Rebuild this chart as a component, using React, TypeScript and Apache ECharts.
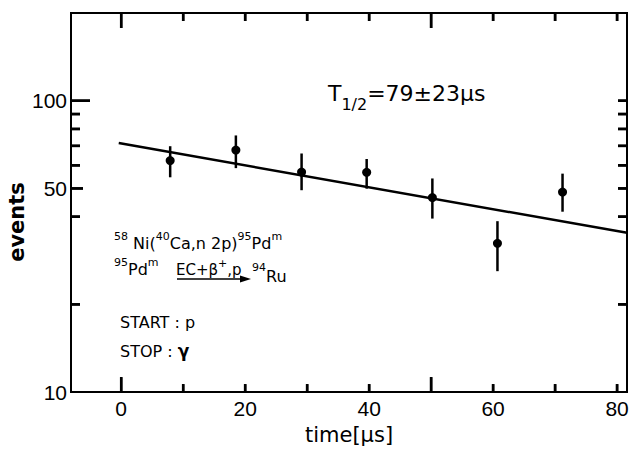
import React, { useEffect, useRef } from 'react';
import * as echarts from 'echarts';

// ---- data ----
const timeUs = [7.9, 18.5, 29.1, 39.6, 50.2, 60.7, 71.2];
const events = [62.3, 67.7, 56.9, 56.8, 46.5, 32.4, 48.6];
const eventsLow = [54.6, 58.7, 49.3, 49.9, 39.4, 26.0, 41.6];
const eventsHigh = [69.8, 76.0, 65.9, 63.1, 54.1, 38.6, 56.2];
const fitTime = [-0.4, 81.6];
const fitEvents = [71.6, 35.2];

const xTickValues = [0, 10, 20, 30, 40, 50, 60, 70, 80];
const xLongTicks = [0, 50];
const xLabelValues = [0, 20, 40, 60, 80];
const yTickValues = [20, 40, 50, 60, 70, 80, 90, 100];
const yMidTicks = [50];
const yLongTicks = [100];
const yLabelValues = [10, 50, 100];

const xMin = -8.1;
const xMax = 81.6;
const yMin = 10;
const yMax = 200;

const L = Math.log10;
const FONT = "'DejaVu Sans', 'Liberation Sans', sans-serif";
const NUMFONT = "'Liberation Sans', 'DejaVu Sans', sans-serif";
const TICK_W = 2.5;

const xTickLen = (v: number) => (xLongTicks.indexOf(v) >= 0 ? 15 : 8);
const yTickLen = (v: number) => (yLongTicks.indexOf(v) >= 0 ? 19 : yMidTicks.indexOf(v) >= 0 ? 12 : 9);

// a custom series that draws short tick strokes from anchor points on the frame
const tickSeries = (data: number[][], offset: (x: number, y: number) => number[]) => ({
  type: 'custom',
  clip: false,
  z: 10,
  data,
  encode: { x: 0, y: 1 },
  renderItem: (params: any, api: any) => {
    const vx = api.value(0);
    const vy = api.value(1);
    const p = api.coord([vx, vy]);
    const d = offset(vx, vy);
    return {
      type: 'line',
      shape: { x1: p[0], y1: p[1], x2: p[0] + d[0], y2: p[1] + d[1] },
      style: { stroke: '#000', lineWidth: TICK_W },
    };
  },
});

export default function App() {
  const ref = useRef<HTMLDivElement>(null);
  useEffect(() => {
    if (!ref.current) return;
    const chart = echarts.init(ref.current, undefined, { renderer: 'svg' });

    const supRich = (main: number, lh: number) => ({
      n: { fontSize: main, fontFamily: FONT, fill: '#000', verticalAlign: 'bottom', lineHeight: lh },
      u: { fontSize: 11, fontFamily: FONT, fill: '#000', verticalAlign: 'top' },
    });

    const texts: any[] = [
      {
        type: 'text', x: 17, y: 222, rotation: Math.PI / 2,
        style: { text: 'events', fill: '#000', font: `bold 21px ${FONT}`, align: 'center', verticalAlign: 'middle' },
      },
      {
        type: 'text', x: 328, y: 82,
        style: {
          text: '{t|T}{s|1/2}{t|=79±23µs}', fill: '#000', font: `22px ${FONT}`, align: 'left', verticalAlign: 'top',
          rich: {
            t: { fontSize: 22, fontFamily: FONT, fill: '#000', verticalAlign: 'top', lineHeight: 30 },
            s: { fontSize: 16, fontFamily: FONT, fill: '#000', verticalAlign: 'bottom' },
          },
        },
      },
      {
        type: 'text', x: 114, y: 231,
        style: {
          text: '{u|58}{n| Ni(}{u|40}{n|Ca,n 2p)}{u|95}{n|Pd}{u|m}', fill: '#000', font: `16px ${FONT}`,
          align: 'left', verticalAlign: 'top', rich: supRich(16, 20),
        },
      },
      {
        type: 'text', x: 114, y: 257,
        style: { text: '{u|95}{n|Pd}{u|m}', fill: '#000', font: `16px ${FONT}`, align: 'left', verticalAlign: 'top', rich: supRich(16, 20) },
      },
      {
        type: 'text', x: 176, y: 258,
        style: { text: '{n|EC+β}{u|+}{n|,p}', fill: '#000', font: `15px ${FONT}`, align: 'left', verticalAlign: 'top', rich: supRich(15, 19) },
      },
      {
        type: 'text', x: 252, y: 262,
        style: { text: '{u|94}{n|Ru}', fill: '#000', font: `16px ${FONT}`, align: 'left', verticalAlign: 'top', rich: supRich(16, 22) },
      },
      { type: 'line', shape: { x1: 177, y1: 279, x2: 243, y2: 279 }, style: { stroke: '#000', lineWidth: 1.5 } },
      { type: 'polygon', shape: { points: [[251, 279], [240, 275.5], [240, 282.5]] }, style: { fill: '#000' } },
      {
        type: 'text', x: 120, y: 322,
        style: { text: 'START : p', fill: '#000', font: `16px ${FONT}`, align: 'left', verticalAlign: 'middle' },
      },
      {
        type: 'text', x: 120, y: 351,
        style: {
          text: '{n|STOP : }{g|γ}', fill: '#000', font: `16px ${FONT}`, align: 'left', verticalAlign: 'middle',
          rich: {
            n: { fontSize: 16, fontFamily: FONT, fill: '#000' },
            g: { fontSize: 17, fontFamily: FONT, fontWeight: 'bold', fill: '#000' },
          },
        },
      },
    ];

    const option: any = {
      animation: false,
      grid: {
        left: 71, right: 5, top: 13, bottom: 50,
        show: true, borderColor: '#000', borderWidth: 2, backgroundColor: 'transparent',
      },
      xAxis: {
        type: 'value',
        min: xMin,
        max: xMax,
        splitLine: { show: false },
        axisLine: { show: true, onZero: false, lineStyle: { color: '#000', width: 2 } },
        axisTick: { show: false },
        axisLabel: {
          show: true,
          customValues: xLabelValues,
          margin: 6,
          color: '#000',
          fontSize: 21,
          fontFamily: NUMFONT,
        },
        name: 'time[µs]',
        nameLocation: 'middle',
        nameGap: 25,
        nameTextStyle: { color: '#000', fontSize: 21, fontFamily: FONT, verticalAlign: 'top' },
      },
      yAxis: {
        type: 'value',
        min: L(yMin),
        max: L(yMax),
        splitLine: { show: false },
        axisLine: { show: true, onZero: false, lineStyle: { color: '#000', width: 2 } },
        axisTick: { show: false },
        axisLabel: {
          show: true,
          customValues: yLabelValues.map(L),
          formatter: (v: number) => String(Math.round(Math.pow(10, v))),
          margin: 4,
          color: '#000',
          fontSize: 21,
          fontFamily: NUMFONT,
        },
      },
      series: [
        tickSeries(xTickValues.map((v) => [v, L(yMin)]), (vx) => [0, -xTickLen(vx)]),
        tickSeries(xTickValues.map((v) => [v, L(yMax)]), (vx) => [0, xTickLen(vx)]),
        tickSeries(yTickValues.map((v) => [xMin, L(v)]), (vx, vy) => [yTickLen(Math.round(Math.pow(10, vy))), 0]),
        tickSeries(yTickValues.map((v) => [xMax, L(v)]), () => [-9, 0]),
        {
          type: 'line',
          data: fitTime.map((t, i) => [t, L(fitEvents[i])]),
          showSymbol: false,
          symbol: 'none',
          lineStyle: { color: '#000', width: 2.5 },
          silent: true,
        },
        {
          type: 'custom',
          silent: true,
          data: timeUs.map((t, i) => [t, L(eventsLow[i]), L(eventsHigh[i])]),
          encode: { x: 0, y: [1, 2] },
          renderItem: (params: any, api: any) => {
            const x = api.value(0);
            const p1 = api.coord([x, api.value(1)]);
            const p2 = api.coord([x, api.value(2)]);
            return {
              type: 'line',
              shape: { x1: p1[0], y1: p1[1], x2: p2[0], y2: p2[1] },
              style: { stroke: '#000', lineWidth: 2.5 },
            };
          },
        },
        {
          type: 'scatter',
          data: timeUs.map((t, i) => [t, L(events[i])]),
          symbol: 'circle',
          symbolSize: 9,
          itemStyle: { color: '#000', opacity: 1 },
          silent: true,
        },
      ],
      graphic: texts,
    };
    chart.setOption(option);

    // second pass: the same frame ticks as graphic strokes, placed through the chart's scales
    try {
      const ticks: any[] = [];
      const seg = (x: number, y: number, dx: number, dy: number) => {
        const p = chart.convertToPixel({ xAxisIndex: 0, yAxisIndex: 0 }, [x, y]) as any;
        if (!p || !isFinite(p[0]) || !isFinite(p[1])) return;
        ticks.push({
          type: 'line',
          z: 100,
          silent: true,
          shape: { x1: p[0], y1: p[1], x2: p[0] + dx, y2: p[1] + dy },
          style: { stroke: '#000', lineWidth: TICK_W },
        });
      };
      xTickValues.forEach((v) => {
        seg(v, L(yMin), 0, -xTickLen(v));
        seg(v, L(yMax), 0, xTickLen(v));
      });
      yTickValues.forEach((v) => {
        seg(xMin, L(v), yTickLen(v), 0);
        seg(xMax, L(v), -9, 0);
      });
      if (ticks.length) chart.setOption({ graphic: texts.concat(ticks) });
    } catch (e) {
      // keep the chart as drawn
    }

    return () => chart.dispose();
  }, []);
  return <div ref={ref} style={{ width: 632, height: 450, position: 'absolute', left: 0, top: 0, background: '#fff' }} />;
}
